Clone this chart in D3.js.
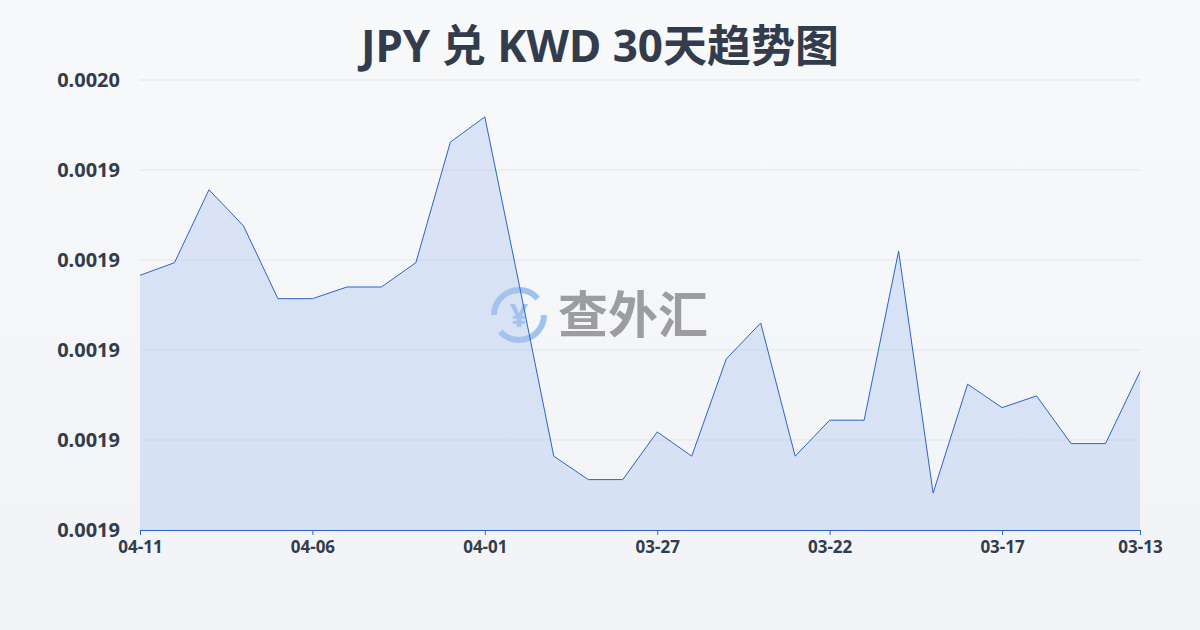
<!DOCTYPE html>
<html><head><meta charset="utf-8">
<script src="https://cdn.jsdelivr.net/npm/d3@7"></script>
<style>
body{margin:0;width:1200px;height:630px;overflow:hidden;font-family:"Noto Sans","Noto Sans CJK SC",sans-serif;}
</style></head>
<body><svg id="chart" width="1200" height="630"></svg>
<script>
"use strict";
let dates = ["04-11","04-10","04-09","04-08","04-07","04-06","04-05","04-04","04-03","04-02",
	"04-01","03-31","03-30","03-29","03-28","03-27","03-26","03-25","03-24","03-23",
	"03-22","03-21","03-20","03-19","03-18","03-17","03-16","03-15","03-14","03-13"];
let rates = [0.0019283,0.0019297,0.0019378,0.0019338,0.0019257,0.0019257,0.0019270,0.0019270,0.0019297,0.0019431,
	0.0019459,0.0019272,0.0019082,0.0019056,0.0019056,0.0019109,0.0019082,0.0019190,0.0019230,0.0019082,
	0.0019122,0.0019122,0.0019310,0.0019041,0.0019162,0.0019136,0.0019149,0.0019096,0.0019096,0.0019176];
let yTicks = [0.00190,0.00191,0.00192,0.00193,0.00194,0.00195];
let yTickLabels = ["0.0019","0.0019","0.0019","0.0019","0.0019","0.0020"];
let xTickIdx = [0,5,10,15,20,25,29];

let svg = d3.select("#chart");
let defs = svg.append("defs");
let bg = defs.append("linearGradient").attr("id","bg").attr("x1",0).attr("y1",0).attr("x2",0).attr("y2",1);
bg.append("stop").attr("offset","0%").attr("stop-color","#f8f9fb");
bg.append("stop").attr("offset","100%").attr("stop-color","#f1f3f6");
svg.append("rect").attr("width",1200).attr("height",630).attr("fill","url(#bg)");

let x = d3.scaleLinear().domain([0, dates.length - 1]).range([140, 1140]);
let y = d3.scaleLinear().domain([0.00190, 0.00195]).range([530, 80]);

svg.append("text").attr("x",600).attr("y",62).attr("text-anchor","middle")
	.attr("font-size",44).attr("font-weight","bold").attr("fill","#333c4c")
	.text("JPY 兑 KWD 30天趋势图");

// grid
svg.append("g").selectAll("line").data(yTicks).enter().append("line")
	.attr("x1",140).attr("x2",1140).attr("y1",d => y(d)).attr("y2",d => y(d))
	.attr("stroke","#e3e6ea").attr("stroke-width",1);

let yAxis = svg.append("g").attr("transform","translate(140,0)")
	.call(d3.axisLeft(y).tickValues(yTicks).tickFormat((d,i) => yTickLabels[i]).tickSize(0).tickPadding(20));
yAxis.select(".domain").remove();
yAxis.selectAll("text").attr("font-size",20).attr("font-weight","bold").attr("fill","#333c4c")
	.attr("font-family","'Noto Sans',sans-serif");

// watermark
let wm = svg.append("g").attr("opacity",0.55);
wm.append("circle").attr("cx",519).attr("cy",315).attr("r",25).attr("fill","none")
	.attr("stroke","#5b9be6").attr("stroke-width",6).attr("stroke-dasharray","60 18");
wm.append("text").attr("x",519).attr("y",327).attr("text-anchor","middle").attr("font-size",32)
	.attr("font-weight","bold").attr("fill","#5b9be6").text("¥");
wm.append("text").attr("x",558).attr("y",333).attr("font-size",50).attr("font-weight","bold")
	.attr("fill","#555").attr("font-family","'Noto Sans CJK SC',sans-serif").text("查外汇");

let area = d3.area().x((d,i) => x(i)).y0(530).y1(d => y(d));
let line = d3.line().x((d,i) => x(i)).y(d => y(d));
svg.append("path").datum(rates).attr("d",area).attr("fill","rgba(170,195,240,0.38)");
svg.append("path").datum(rates).attr("d",line).attr("fill","none").attr("stroke","#2f62c8").attr("stroke-width",1);

let xAxis = svg.append("g").attr("transform","translate(0,530)")
	.call(d3.axisBottom(x).tickValues(xTickIdx).tickFormat(i => dates[i]).tickSize(5).tickPadding(6));
xAxis.select(".domain").attr("stroke","#2f62c8");
xAxis.selectAll("line").attr("stroke","#2f62c8");
xAxis.selectAll("text").attr("font-size",17).attr("font-weight","bold").attr("fill","#333c4c")
	.attr("font-family","'Noto Sans',sans-serif");
</script></body></html>
